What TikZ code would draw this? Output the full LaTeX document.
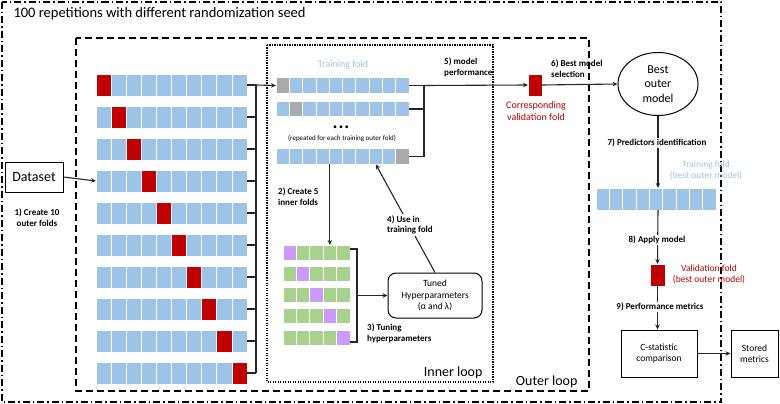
\documentclass[tikz,border=0pt]{standalone}
\usepackage{fontspec}
\setmainfont{Carlito}
\usetikzlibrary{shapes.geometric, arrows.meta}

\definecolor{foldblue}{RGB}{157,195,230}
\definecolor{foldred}{RGB}{192,0,0}
\definecolor{foldgray}{RGB}{170,170,170}
\definecolor{foldgreen}{RGB}{169,209,142}
\definecolor{foldpurple}{RGB}{204,153,255}

\newcommand{\fs}[1]{\fontsize{#1}{1.2\dimexpr #1pt\relax}\selectfont}

\begin{document}
\begin{tikzpicture}[x=1pt, y=-1pt,
  cell/.style={draw=white, line width=0.7pt, inner sep=0pt, outer sep=0pt},
  ocell/.style={cell, minimum width=15.1pt, minimum height=22pt},
  icell/.style={cell, minimum width=13.3pt, minimum height=15.5pt},
  gcell/.style={cell, minimum width=13.4pt, minimum height=15pt},
  conn/.style={line width=1.1pt, draw=black!85},
  arr/.style={conn, -{Stealth[length=5pt, width=4.5pt]}},
  steplabel/.style={font=\fs{9}\bfseries, align=left, inner sep=1pt},
  box/.style={draw, line width=1pt, align=center, inner sep=1pt},
]
\useasboundingbox (0,0) rectangle (780,404);

% loop frames
\draw[line width=2pt, dash pattern=on 7pt off 3pt on 1.5pt off 3pt] (2,2) rectangle (721,402);
\draw[line width=1.8pt, dash pattern=on 7pt off 4pt] (76,38) rectangle (589,391);
\draw[line width=1.5pt, dash pattern=on 1.2pt off 1.3pt] (267,45) rectangle (493,382);
\node[anchor=west, font=\fs{14.5}] (title) at (10,14) {100 repetitions with different randomization seed};
\node[anchor=base east, font=\fs{14}] (innerlbl) at (486,376) {Inner loop};
\node[anchor=base east, font=\fs{14}] (outerlbl) at (581,385) {Outer loop};

% dataset
\node[box, minimum width=58pt, minimum height=30pt, font=\fs{14}] (data) at (34,177) {Dataset};
\node[steplabel, align=center] (s1) at (37,218) {1) Create 10\\outer folds};

% outer folds
\foreach \r in {1,...,10}
  \foreach \c in {1,...,10} {
    \ifnum\c=\r \def\col{foldred}\else\def\col{foldblue}\fi
    \node[ocell, fill=\col] (out\r-\c) at ({96+15.1*(\c-0.5)}, {85+32*(\r-1)}) {};
  }
\draw[arr] (data.east) -- (out4-1.west);
\coordinate (obtop) at (256,85);
\coordinate (obbot) at (256,373);
\draw[conn] (obtop) -- (obbot);
\foreach \r in {1,...,10}
  \draw[conn] (out\r-10.east) -- (out\r-10.east -| obtop);

% training folds of the inner loop
\foreach \r/\y/\g in {A/85.5/1, B/109/2, C/156.5/10}
  \foreach \c in {1,...,10} {
    \ifnum\c=\g \def\col{foldgray}\else\def\col{foldblue}\fi
    \node[icell, fill=\col] (in\r-\c) at ({276+13.3*(\c-0.5)}, \y) {};
  }
\draw[arr] (obtop) -- (inA-1.west);
\node[text=foldblue, font=\fs{10}] (trainlbl) at (343,65) {Training fold};
\node[font=\fs{8}] (dots) at (341,128) {\textbullet\ \textbullet\ \textbullet};
\node[font=\fs{7}] (repeat) at (342,139) {(repeated for each training outer fold)};
\coordinate (ibtop) at (424,85.5);
\coordinate (ibbot) at (424,156.5);
\draw[conn] (ibtop) -- (ibbot);
\foreach \r in {A,B,C}
  \draw[conn] (in\r-10.east) -- (in\r-10.east -| ibtop);

% inner folds
\foreach \r in {1,...,5}
  \foreach \c in {1,...,5} {
    \ifnum\c=\r \def\col{foldpurple}\else\def\col{foldgreen}\fi
    \node[gcell, fill=\col] (grn\r-\c) at ({283+13.4*(\c-0.5)}, {252.5+21.25*(\r-1)}) {};
  }
\draw[arr] (grn1-4.north |- inC-4.south) -- (grn1-4.north);
\node[steplabel, anchor=west] (s2) at (277,197) {2) Create 5\\inner folds};
\coordinate (gbtop) at (357,249);
\coordinate (gbbot) at (357,342);
\coordinate (gbmid) at (357,295.5);
\draw[conn] (gbtop -| grn1-5.east) -- (gbtop) -- (gbbot) -- (gbbot -| grn5-5.east);

% tuned hyperparameters
\node[box, rounded corners=8pt, minimum width=94pt, minimum height=45pt, font=\fs{9.5}] (tuned) at (435,295.5) {Tuned\\Hyperparameters\\(α and λ)};
\draw[arr] (gbmid) -- (tuned.west);
\node[steplabel, anchor=west] (s3) at (366,333.5) {3) Tuning\\hyperparameters};
\draw[arr] (tuned.north) -- (inC-8.south);
\node[steplabel, anchor=west, fill=white] (s4) at (386,225) {4) Use in\\training fold};

% corresponding validation fold
\node[cell, fill=foldred, minimum width=14pt, minimum height=22pt] (cval) at (535,85) {};
\draw[arr] (ibtop) -- (cval.west);
\node[steplabel, anchor=west] (s5) at (443,67.5) {5) model\\performance};
\node[text=foldred, font=\fs{10}, align=center] (cvallbl) at (536,111) {Corresponding\\validation fold};

% best outer model
\node[draw, line width=1pt, ellipse, minimum width=80pt, minimum height=63pt, inner sep=0pt, align=center, font=\fs{12}] (best) at (658,84) {Best\\outer\\model};
\draw[arr] (cval.east) -- (best.west);
\node[steplabel, anchor=west] (s6) at (550,69) {6) Best model\\selection};

\foreach \c in {1,...,9}
  \node[cell, fill=foldblue, minimum width=13.33pt, minimum height=22pt] (bf\c) at ({596+13.33*(\c-0.5)}, 199) {};
\draw[arr] (best.south) -- (best.south |- bf5.north);
\node[steplabel, fill=white] (s7) at (657,143) {7) Predictors identification};
\node[text=foldblue, font=\fs{9.5}, align=center] (bflbl) at (706,170.5) {Training fold\\(best outer model)};

\node[cell, fill=foldred, minimum width=15pt, minimum height=22pt] (vred) at (657.5,275) {};
\draw[arr] (best.south |- bf5.south) -- (vred.north);
\node[steplabel, fill=white] (s8) at (657,240) {8) Apply model};
\node[text=foldred, font=\fs{9.5}, align=center] (vredlbl) at (709,274.5) {Validation fold\\(best outer model)};

\node[box, minimum width=76pt, minimum height=47pt, font=\fs{9.5}] (cstat) at (659,353.5) {C-statistic\\comparison};
\draw[arr] (vred.south) -- (vred.south |- cstat.north);
\node[steplabel, fill=white] (s9) at (660,307) {9) Performance metrics};
\node[box, minimum width=47pt, minimum height=47pt, font=\fs{9.5}] (stored) at (754.5,353.5) {Stored\\metrics};
\draw[arr] (cstat.east) -- (stored.west);
\end{tikzpicture}
\end{document}
